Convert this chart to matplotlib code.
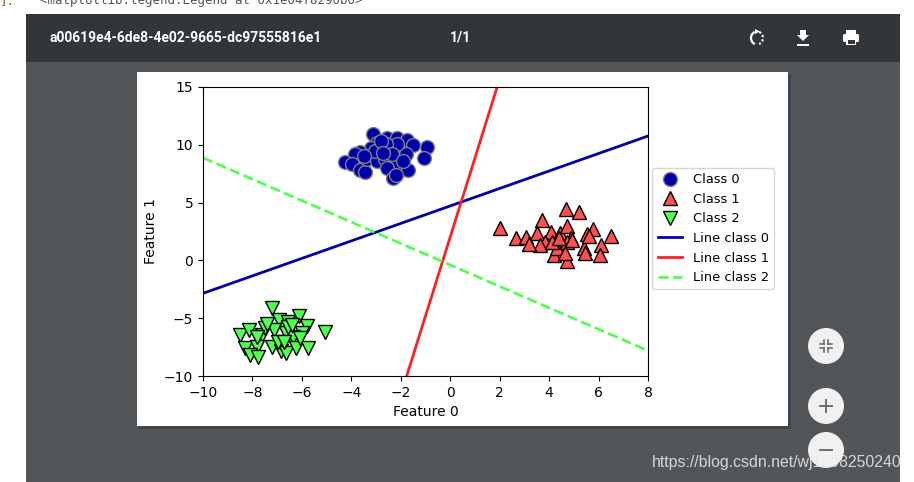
import matplotlib
matplotlib.use('Agg')
import matplotlib.pyplot as plt
from matplotlib.patches import Rectangle, Circle, Polygon, Arc, FancyBboxPatch

# ---- data ----
class0_x = [-3.11, -2.57, -2.16, -1.73, -1.49, -0.95, -1.06, -1.79, -2.16, -2.60, -2.97,
            -3.22, -3.65, -3.85, -4.26, -3.98, -3.65, -3.45, -3.38, -2.97, -2.64, -2.16,
            -2.54, -2.30, -1.69, -3.03, -2.35, -2.20, -2.80, -3.50, -1.90, -2.70]
class0_y = [10.91, 10.62, 10.62, 10.39, 9.98, 9.84, 8.83, 9.23, 10.04, 10.04, 10.13,
            9.70, 9.41, 9.23, 8.49, 8.31, 7.82, 7.62, 8.77, 8.60, 8.77, 8.40,
            8.02, 7.10, 7.82, 9.46, 9.20, 7.40, 10.30, 9.00, 8.60, 9.30]

class1_x = [2.00, 4.68, 5.22, 3.71, 2.67, 3.06, 3.53, 4.06, 4.46, 4.71, 4.90, 5.52,
            5.77, 6.51, 6.09, 6.04, 5.41, 5.45, 4.71, 4.20, 4.31, 4.71, 3.83, 3.65,
            3.20, 4.92, 4.64, 4.10, 5.60, 4.40]
class1_y = [2.78, 4.45, 4.16, 3.50, 1.93, 2.00, 2.38, 2.48, 2.41, 2.96, 1.98, 2.26,
            2.75, 2.10, 1.36, 0.44, 1.08, 0.61, -0.08, 0.47, 1.08, 1.55, 1.60, 1.36,
            1.43, 1.76, 0.61, 1.63, 2.10, 1.90]

class2_x = [-7.20, -6.11, -5.05, -5.81, -5.98, -6.92, -6.57, -8.52, -8.12, -7.60, -7.14,
            -6.66, -6.36, -8.30, -7.80, -8.08, -7.76, -7.19, -6.85, -6.66, -6.25, -5.75,
            -6.95, -6.71, -7.49, -7.83, -6.08, -6.55, -6.40, -7.40]
class2_y = [-4.08, -4.80, -6.23, -5.66, -6.31, -5.16, -5.30, -6.46, -6.02, -6.43, -6.02,
            -6.26, -6.62, -7.62, -7.49, -8.15, -8.35, -7.45, -7.87, -8.00, -7.57, -7.57,
            -7.03, -7.03, -5.87, -6.60, -6.74, -5.73, -5.60, -5.50]

# decision lines, end points
line0_x = [-10, 8]
line0_y = [-2.85, 10.76]
line1_x = [-1.76, 1.90]
line1_y = [-10, 15]
line2_x = [-10, 8]
line2_y = [8.88, -7.81]

class_labels = ['Class 0', 'Class 1', 'Class 2']
line_labels = ['Line class 0', 'Line class 1', 'Line class 2']
x_ticks = [-10, -8, -6, -4, -2, 0, 2, 4, 6, 8]
y_ticks = [-10, -5, 0, 5, 10, 15]

doc_title = 'a00619e4-6de8-4e02-9665-dc97555816e1'
page_text = '1/1'
watermark = 'https://blog.csdn.net/wj1298250240'

W, H = 914, 482
fig = plt.figure(figsize=(W / 100, H / 100), dpi=100)
fig.patch.set_facecolor('white')

# ---- viewer chrome (pixel coordinates) ----
bg = fig.add_axes([0, 0, 1, 1], zorder=0)
bg.set_xlim(0, W)
bg.set_ylim(H, 0)
bg.axis('off')

# leftover notebook output line, only its lower half shows
bg.text(0, 0.5, ']:', color='#c0392b', fontsize=9, family='DejaVu Sans Mono', va='center')
bg.text(40, 0.5, '<matplotlib.legend.Legend at 0x1e04f8290b0>', color='#555555', fontsize=9,
        family='DejaVu Sans Mono', va='center')

bg.add_patch(Rectangle((26, 14), 874, 468, color='#525659', lw=0))
bg.add_patch(Rectangle((26, 14), 874, 48, color='#323639', lw=0))
bg.text(50, 38, doc_title, color='white', fontsize=10, family='Roboto',
        weight='bold', va='center')
bg.text(450, 38, page_text, color='white', fontsize=10, family='Roboto',
        weight='bold', va='center')

# rotate icon
bg.add_patch(Arc((757, 38), 12, 13, theta1=110, theta2=250, color='white', lw=1.6))
bg.add_patch(Arc((757, 38), 12, 13, theta1=-70, theta2=70, color='white', lw=1.6, ls=(0, (1, 1))))
bg.add_patch(Polygon([[755, 29], [760, 31.5], [755, 34]], color='white', lw=0))
# download icon
bg.add_patch(Polygon([[800, 30], [806, 30], [806, 35], [809, 35], [803, 41], [797, 35], [800, 35]],
                     color='white', lw=0))
bg.add_patch(Rectangle((797, 44), 12, 1.8, color='white', lw=0))
# print icon
bg.add_patch(Rectangle((846, 30), 10, 4, color='white', lw=0))
bg.add_patch(FancyBboxPatch((843, 34), 16, 8, boxstyle='round,pad=0,rounding_size=1.5',
                            color='white', lw=0))
bg.add_patch(Rectangle((846, 39), 10, 6, color='white', lw=0))
bg.add_patch(Rectangle((847.5, 40), 7, 3.5, color='#323639', lw=0))

# page with shadow
bg.add_patch(Rectangle((139, 74), 652, 355, color='#3a3d40', lw=0, alpha=0.7))
bg.add_patch(Rectangle((137, 72), 651, 354, color='white', lw=0))

# zoom buttons
for cy in [346, 406, 450]:
    bg.add_patch(Circle((826, cy), 18, color='#f1f1f1', lw=0))
g = '#5f6368'
for sx, sy in [(-1, -1), (1, -1), (-1, 1), (1, 1)]:
    x0, y0 = 826 + sx * 2, 346 + sy * 2
    bg.plot([x0, x0 + sx * 4], [y0, y0], color=g, lw=1.1)
    bg.plot([x0, x0], [y0, y0 + sy * 4], color=g, lw=1.1)
bg.plot([820, 832], [406, 406], color=g, lw=1.3)
bg.plot([826, 826], [400, 412], color=g, lw=1.3)
bg.plot([820, 832], [450, 450], color=g, lw=1.3)

fig.text(652 / W, 1 - 463 / H, watermark, color='#ececec', alpha=0.85, fontsize=11.4,
         family='Liberation Sans', va='center', zorder=5)

# ---- the chart ----
ax = fig.add_axes([203 / W, 1 - 376 / H, 445 / W, 289 / H], zorder=2)

ax.plot(class0_x, class0_y, 'o', ls='', color='#0000aa', markersize=10,
        markeredgecolor='grey', markeredgewidth=1, label=class_labels[0])
ax.plot(class1_x, class1_y, '^', ls='', color='#ff5050', markersize=10,
        markeredgecolor='black', markeredgewidth=1, label=class_labels[1])
ax.plot(class2_x, class2_y, 'v', ls='', color='#50ff50', markersize=10,
        markeredgecolor='black', markeredgewidth=1, label=class_labels[2])

ax.plot(line0_x, line0_y, '-', color='#0000aa', lw=2, label=line_labels[0])
ax.plot(line1_x, line1_y, '-', color='#ff2020', lw=2, label=line_labels[1])
ax.plot(line2_x, line2_y, '--', color='#50ff50', lw=2, label=line_labels[2])

ax.set_xlim(-10, 8)
ax.set_ylim(-10, 15)
ax.set_xticks(x_ticks)
ax.set_yticks(y_ticks)
ax.tick_params(labelsize=10)
ax.set_xlabel('Feature 0', fontsize=10)
ax.set_ylabel('Feature 1', fontsize=10)
ax.legend(loc=(1.01, 0.3), fontsize=9.4, handlelength=1.9)

fig.savefig('out.png', dpi=100)
